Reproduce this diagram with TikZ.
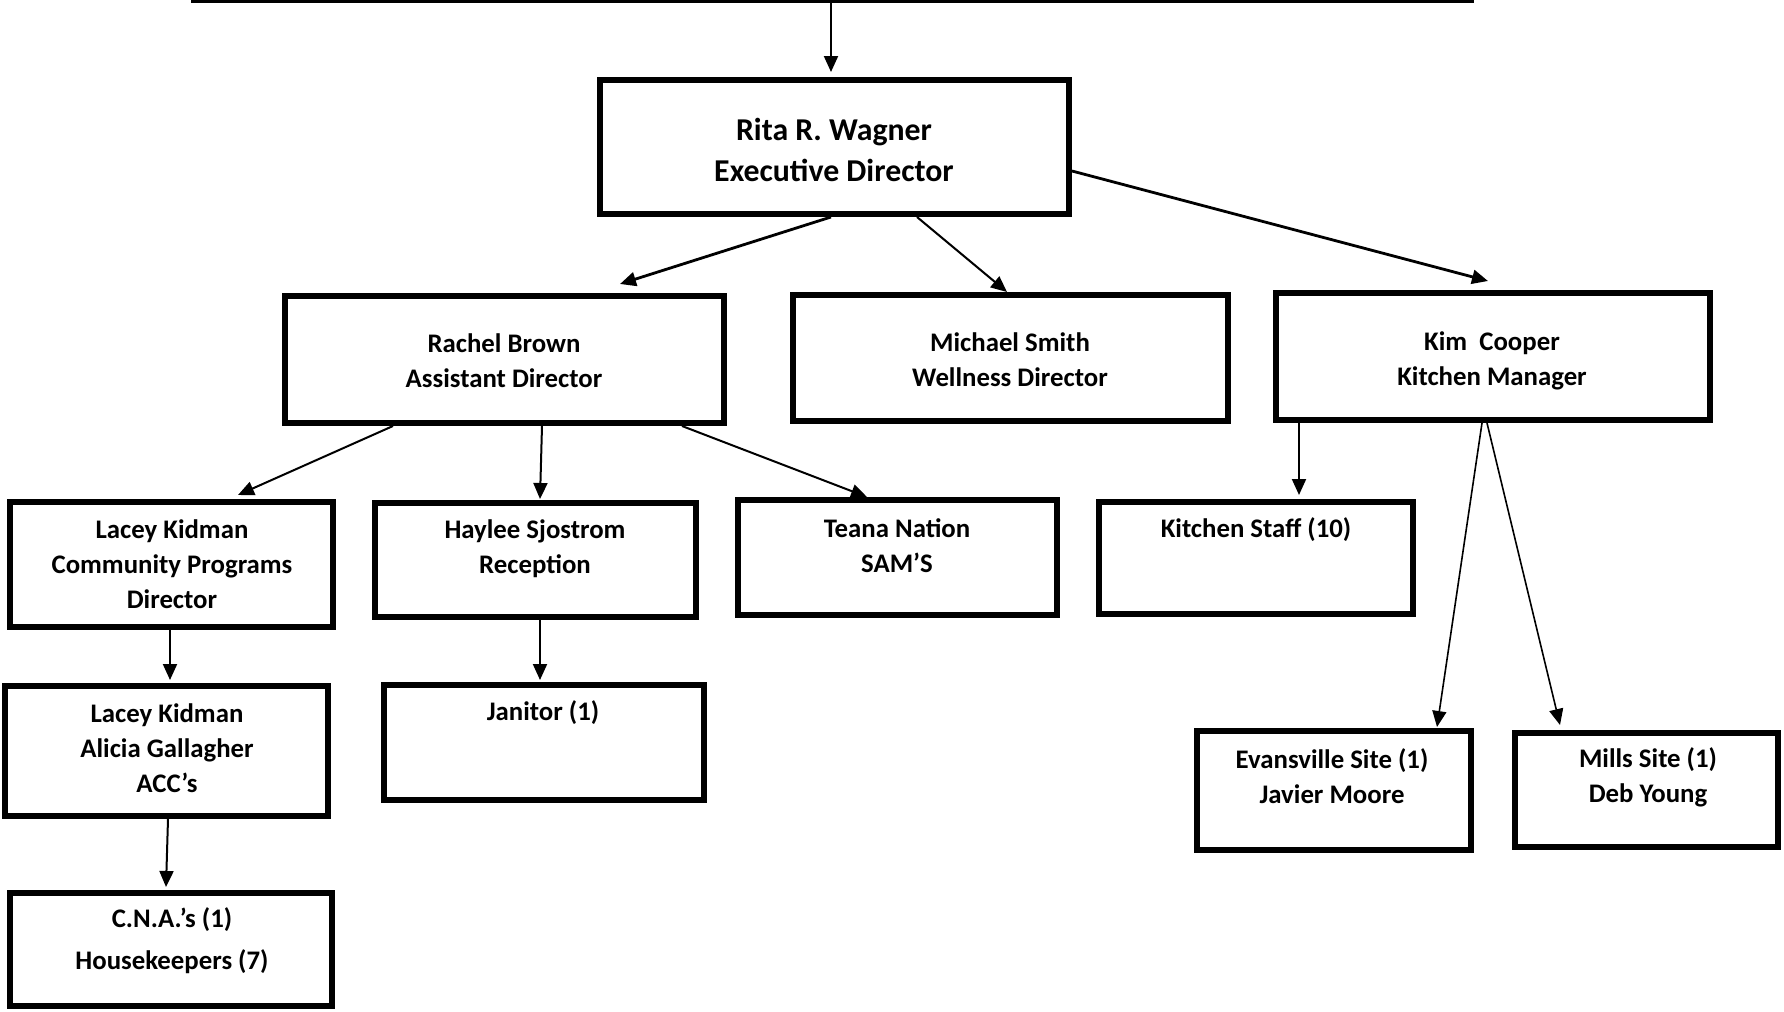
\documentclass[tikz,border=0pt]{standalone}
\usepackage{fontspec}
\setmainfont{Carlito}
\usetikzlibrary{arrows.meta}
\begin{document}
\begin{tikzpicture}[x=0.5pt,y=-0.5pt,
  box/.style={draw=black, line width=3pt, fill=white, inner sep=0pt},
  lbl/.style={font=\bfseries\fontsize{13.4pt}{17.5pt}\selectfont, align=center, inner sep=0pt},
  biglbl/.style={font=\bfseries\fontsize{15.9pt}{20.5pt}\selectfont, align=center, inner sep=0pt},
  link/.style={line width=1pt, -{Triangle[length=8pt,width=7pt]}},
  heavylink/.style={link, line width=1.4pt},
  lightlink/.style={link, line width=0.8pt}
]
\useasboundingbox (0,0) rectangle (1784,1012);

% feed line along the top
\coordinate (tl) at (191,1.5);
\coordinate (tr) at (1474,1.5);
\coordinate (feed) at (831,1.5);
\draw[line width=1.5pt] (tl) -- (tr);

% boxes
\node[box, minimum width=234.5pt, minimum height=67pt]   (exec)    at (834.5,147) {};
\node[box, minimum width=219.5pt, minimum height=63.5pt] (rachel)  at (504.5,359.5) {};
\node[box, minimum width=217.5pt, minimum height=63pt]   (michael) at (1010.5,358) {};
\node[box, minimum width=217pt,   minimum height=63.5pt] (kim)     at (1493,356.5) {};
\node[box, minimum width=161.5pt, minimum height=62.5pt] (lacey)   at (171.5,564.5) {};
\node[box, minimum width=160.5pt, minimum height=57pt]   (haylee)  at (535.5,560) {};
\node[box, minimum width=159.5pt, minimum height=57.5pt] (teana)   at (897.5,557.5) {};
\node[box, minimum width=157pt,   minimum height=56pt]   (kitchen) at (1256,558) {};
\node[box, minimum width=161.5pt, minimum height=65pt]   (acc)     at (166.5,751) {};
\node[box, minimum width=160pt,   minimum height=57.5pt] (janitor) at (544,742.5) {};
\node[box, minimum width=161pt,   minimum height=56.5pt] (cna)     at (171,949.5) {};
\node[box, minimum width=137pt,   minimum height=59.5pt] (evans)   at (1334,790.5) {};
\node[box, minimum width=131.5pt, minimum height=57pt]   (mills)   at (1646.5,790) {};

% texts
\node[biglbl] (exec-t)    at (834,149.5)  {Rita R. Wagner\\Executive Director};
\node[lbl]    (rachel-t)  at (504,361)    {Rachel Brown\\Assistant Director};
\node[lbl]    (michael-t) at (1010,360)   {Michael Smith\\Wellness Director};
\node[lbl]    (kim-t)     at (1492,361)   {Kim\ \ Cooper\\Kitchen Manager};
\node[lbl]    (lacey-t)   at (172,564.5)  {Lacey Kidman\\Community Programs\\Director};
\node[lbl]    (haylee-t)  at (535,548.5)  {Haylee Sjostrom\\Reception};
\node[lbl]    (teana-t)   at (897,546)    {Teana Nation\\SAM’S};
\node[lbl]    (kitchen-t) at (1256,530)   {Kitchen Staff (10)};
\node[lbl]    (acc-t)     at (167,748)    {Lacey Kidman\\Alicia Gallagher\\ACC’s};
\node[lbl]    (janitor-t) at (543,713)    {Janitor (1)};
\node[lbl]    (cna-t)     at (172,941)    {C.N.A.’s (1)\\[3.5pt]Housekeepers (7)};
\node[lbl]    (evans-t)   at (1332,776)   {Evansville Site (1)\\Javier Moore};
\node[lbl]    (mills-t)   at (1648,777.5) {Mills Site (1)\\Deb Young};

% connectors
\draw[link] (feed) -- ([xshift=-1.75pt,yshift=2.5pt]exec.north);
\draw[heavylink] ([xshift=-1.75pt]exec.south) -- ([xshift=57.75pt,yshift=4.5pt]rachel.north);
\draw[link] ([xshift=41.25pt]exec.south) -- ([xshift=-1.75pt]michael.north);
\draw[heavylink] ([yshift=-12pt]exec.east) -- ([xshift=-2.5pt,yshift=4.5pt]kim.north);

\draw[link] ([xshift=-55.75pt]rachel.south) -- ([xshift=33.25pt,yshift=2pt]lacey.north);
\draw[link] ([xshift=18.75pt]rachel.south) -- ([xshift=2.25pt,yshift=0.5pt]haylee.north);
\draw[link] ([xshift=88.75pt]rachel.south) -- ([xshift=-15.25pt]teana.north);

\draw[link] ([xshift=-0.75pt]lacey.south) -- ([xshift=1.75pt,yshift=1.5pt]acc.north);
\draw[link] ([xshift=2.25pt]haylee.south) -- ([xshift=-2pt,yshift=1pt]janitor.north);
\draw[link] ([xshift=0.75pt]acc.south) -- ([xshift=-2.5pt,yshift=1.5pt]cna.north);

\draw[link] ([xshift=-97pt]kim.south) -- ([xshift=21.5pt,yshift=2pt]kitchen.north);
\draw[lightlink] ([xshift=-5.5pt]kim.south) -- ([xshift=51.5pt,yshift=0.5pt]evans.north);
\draw[lightlink] ([xshift=-3pt]kim.south) -- ([xshift=-43.25pt,yshift=2.5pt]mills.north);
\end{tikzpicture}
\end{document}
